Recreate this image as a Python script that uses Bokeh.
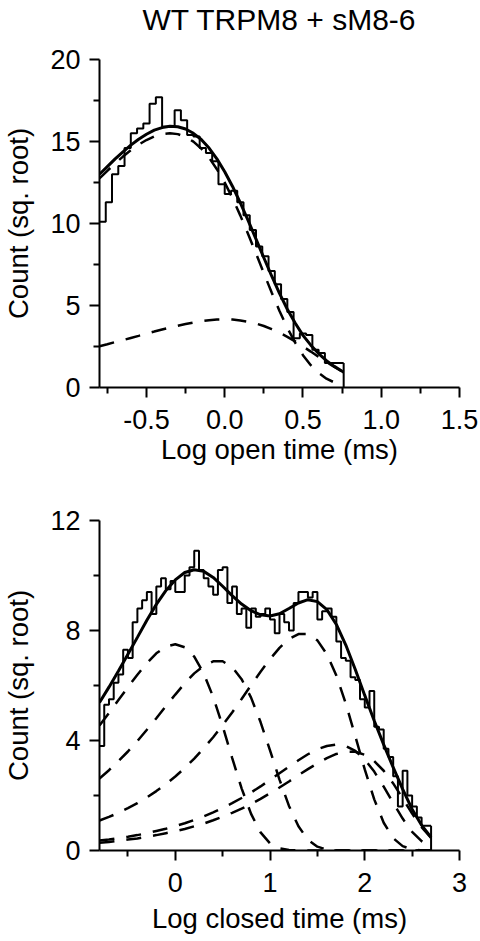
from bokeh.plotting import figure
from bokeh.layouts import column
from bokeh.models import FixedTicker, Range1d, Title
from bokeh.embed import file_html
from bokeh.resources import INLINE

FONT = "Liberation Sans"

# ---------------- Top panel: open times ----------------
title_text = "WT TRPM8 + sM8-6"
open_bin_start = -0.8
open_bin_width = 0.04
open_hist = [10.1, 11.3, 13.0, 13.5, 14.6, 15.5, 15.8, 16.1, 17.3, 17.7,
             15.9, 15.9, 16.9, 16.3, 15.4, 15.3, 14.6, 14.3, 13.8, 12.4,
             11.8, 12.0, 11.3, 10.5, 9.6, 8.6, 8.0, 7.1, 6.3, 5.4,
             4.6, 3.0, 3.3, 3.2, 2.3, 2.1, 1.5, 1.5, 1.5]

open_fit_x = [-0.8, -0.75, -0.7, -0.65, -0.6, -0.55, -0.5, -0.45, -0.4, -0.35,
              -0.3, -0.25, -0.2, -0.15, -0.1, -0.05, 0.0, 0.05, 0.1, 0.15,
              0.2, 0.25, 0.3, 0.35, 0.4, 0.45, 0.5, 0.55, 0.6, 0.65,
              0.7, 0.75, 0.76]
open_fit_total = [13.00, 13.47, 13.94, 14.37, 14.78, 15.14, 15.44, 15.69, 15.85, 15.93,
                  15.90, 15.76, 15.50, 15.12, 14.60, 13.94, 13.16, 12.26, 11.25, 10.17,
                  9.05, 7.91, 6.80, 5.74, 4.77, 3.93, 3.18, 2.58, 2.07, 1.64,
                  1.29, 0.99, 0.94]
open_comp_1 = [12.75, 13.21, 13.66, 14.08, 14.47, 14.81, 15.09, 15.31, 15.45, 15.50,
               15.45, 15.28, 14.99, 14.57, 14.01, 13.31, 12.49, 11.54, 10.48, 9.35,
               8.17, 6.97, 5.79, 4.67, 3.64, 2.74, 1.97, 1.36, 0.89, 0.54,
               0.31, 0.17, 0.15]
open_comp_2 = [2.52, 2.64, 2.77, 2.89, 3.02, 3.15, 3.29, 3.41, 3.54, 3.66,
               3.77, 3.87, 3.96, 4.04, 4.10, 4.14, 4.15, 4.14, 4.09, 4.01,
               3.90, 3.75, 3.56, 3.34, 3.09, 2.81, 2.50, 2.19, 1.87, 1.55,
               1.25, 0.98, 0.93]

open_x_ticks = [-0.5, 0.0, 0.5, 1.0, 1.5]
open_x_labels = ["-0.5", "0.0", "0.5", "1.0", "1.5"]
open_x_minor = [-0.75, -0.25, 0.25, 0.75, 1.25]
open_y_ticks = [0, 5, 10, 15, 20]
open_y_minor = [2.5, 7.5, 12.5, 17.5]

# ---------------- Bottom panel: closed times ----------------
closed_bin_start = -0.8
closed_bin_width = 0.05
closed_hist = [3.8, 5.3, 5.5, 6.1, 6.4, 7.3, 7.0, 8.3, 8.8, 9.1,
               9.4, 8.6, 9.6, 9.9, 9.5, 9.8, 9.4, 9.4, 10.0, 10.3,
               10.9, 10.2, 9.9, 9.6, 9.3, 10.2, 10.3, 9.0, 9.6, 8.6,
               8.8, 8.1, 8.8, 8.5, 8.6, 8.8, 8.4, 7.9, 8.6, 8.3,
               8.0, 9.0, 9.4, 9.4, 9.2, 9.4, 8.4, 8.7, 8.8, 8.5,
               7.6, 7.0, 6.9, 6.3, 6.2, 5.5, 5.2, 5.8, 4.5, 4.4,
               3.7, 3.4, 2.7, 1.6, 2.9, 2.0, 1.6, 1.2, 0.9, 0.9]

closed_fit_x = [-0.8, -0.7, -0.6, -0.5, -0.4, -0.3, -0.2, -0.1, 0.0, 0.1,
                0.2, 0.3, 0.4, 0.5, 0.6, 0.7, 0.8, 0.9, 1.0, 1.1,
                1.2, 1.3, 1.4, 1.5, 1.6, 1.7, 1.8, 1.9, 2.0, 2.1,
                2.2, 2.3, 2.4, 2.5, 2.6, 2.7]
closed_fit_total = [5.38, 5.94, 6.53, 7.14, 7.75, 8.37, 8.95, 9.45, 9.84, 10.11,
                    10.21, 10.15, 9.93, 9.61, 9.27, 8.96, 8.72, 8.57, 8.53, 8.61,
                    8.80, 9.00, 9.12, 9.05, 8.76, 8.22, 7.47, 6.58, 5.64, 4.72,
                    3.85, 3.02, 2.23, 1.50, 0.92, 0.48]
closed_comp_a = [4.55, 5.00, 5.47, 5.94, 6.39, 6.81, 7.17, 7.41, 7.50, 7.39,
                 7.05, 6.44, 5.58, 4.52, 3.37, 2.26, 1.33, 0.66, 0.26, 0.08,
                 0.02, 0, 0, 0, 0, 0, 0, 0, 0, 0,
                 0, 0, 0, 0, 0, 0]
closed_comp_b = [2.62, 2.92, 3.25, 3.60, 3.98, 4.39, 4.81, 5.25, 5.67, 6.08,
                 6.44, 6.72, 6.88, 6.88, 6.67, 6.23, 5.56, 4.67, 3.64, 2.58,
                 1.62, 0.88, 0.39, 0.14, 0.03, 0, 0, 0, 0, 0,
                 0, 0, 0, 0, 0, 0]
closed_comp_c = [1.09, 1.22, 1.37, 1.54, 1.72, 1.93, 2.16, 2.41, 2.69, 3.00,
                 3.34, 3.72, 4.12, 4.56, 5.02, 5.51, 6.01, 6.50, 6.96, 7.37,
                 7.69, 7.87, 7.87, 7.64, 7.14, 6.36, 5.34, 4.16, 2.95, 1.86,
                 1.01, 0.45, 0.16, 0.04, 0, 0]
closed_comp_d = [0.36, 0.40, 0.45, 0.50, 0.56, 0.63, 0.71, 0.79, 0.89, 0.99,
                 1.11, 1.24, 1.39, 1.55, 1.72, 1.91, 2.11, 2.33, 2.57, 2.81,
                 3.05, 3.28, 3.50, 3.68, 3.80, 3.85, 3.80, 3.62, 3.31, 2.87,
                 2.32, 1.73, 1.16, 0.68, 0.34, 0.14]
closed_comp_e = [0.28, 0.31, 0.35, 0.40, 0.44, 0.50, 0.56, 0.63, 0.70, 0.78,
                 0.88, 0.98, 1.10, 1.23, 1.37, 1.52, 1.69, 1.88, 2.08, 2.29,
                 2.51, 2.74, 2.96, 3.17, 3.36, 3.51, 3.59, 3.59, 3.48, 3.25,
                 2.90, 2.44, 1.90, 1.34, 0.85, 0.46]

closed_x_ticks = [0, 1, 2, 3]
closed_x_labels = ["0", "1", "2", "3"]
closed_x_minor = [-0.5, 0.5, 1.5, 2.5]
closed_y_ticks = [0, 4, 8, 12]
closed_y_minor = [2, 6, 10]

y_label = "Count (sq. root)"
open_x_label = "Log open time (ms)"
closed_x_label = "Log closed time (ms)"


def style_axes(p, xt, xlab, xminor, yt, yminor, xlabel, xlabel_standoff):
    p.xaxis.ticker = FixedTicker(ticks=xt, minor_ticks=xminor)
    p.xaxis.major_label_overrides = {t: s for t, s in zip(xt, xlab)}
    p.yaxis.ticker = FixedTicker(ticks=yt, minor_ticks=yminor)
    p.xaxis.axis_label = xlabel
    p.yaxis.axis_label = y_label
    for ax in (p.xaxis, p.yaxis):
        ax.axis_line_width = 2
        ax.axis_line_color = "black"
        ax.major_tick_line_width = 2
        ax.minor_tick_line_width = 2
        ax.major_tick_line_color = "black"
        ax.minor_tick_line_color = "black"
        ax.major_tick_out = 10
        ax.major_tick_in = 0
        ax.minor_tick_out = 6
        ax.minor_tick_in = 0
        ax.major_label_text_font = FONT
        ax.major_label_text_font_size = "27px"
        ax.major_label_text_color = "black"
        ax.axis_label_text_font = FONT
        ax.axis_label_text_font_size = "27.5px"
        ax.axis_label_text_font_style = "normal"
        ax.axis_label_text_color = "black"
    p.xaxis.major_label_standoff = 12
    p.xaxis.axis_label_standoff = xlabel_standoff
    p.yaxis.major_label_standoff = 9
    p.yaxis.axis_label_standoff = 13
    p.xgrid.visible = False
    p.ygrid.visible = False
    p.outline_line_color = None
    p.background_fill_color = "white"
    p.border_fill_color = "white"


def draw_hist(p, start, width, vals):
    edges = [start + width * i for i in range(len(vals) + 1)]
    p.step(x=edges, y=vals + [vals[-1]], mode="after", line_color="black", line_width=2)
    p.segment(x0=[edges[-1]], y0=[0], x1=[edges[-1]], y1=[vals[-1]],
              line_color="black", line_width=2)


DASH = "15 12"

top = figure(width=480, height=481, x_range=Range1d(-0.8, 1.5), y_range=Range1d(0, 20),
             output_backend="svg", toolbar_location=None,
             min_border_left=96, min_border_right=21, min_border_top=59, min_border_bottom=94)
# spacer (closest to the frame) so that the real title sits at the very top
top.add_layout(Title(text=" ", text_font=FONT, text_font_size="20px", standoff=0), "above")
top.add_layout(Title(text=title_text, text_font=FONT, text_font_size="30px",
                     text_font_style="normal", text_color="black", align="center",
                     standoff=0), "above")
style_axes(top, open_x_ticks, open_x_labels, open_x_minor, open_y_ticks, open_y_minor,
           open_x_label, 2)
draw_hist(top, open_bin_start, open_bin_width, open_hist)
for comp in (open_comp_1, open_comp_2):
    top.line(open_fit_x, comp, line_color="black", line_width=2.5, line_dash=DASH)
top.line(open_fit_x, open_fit_total, line_color="black", line_width=3)

bot = figure(width=480, height=460, x_range=Range1d(-0.8, 3.0), y_range=Range1d(0, 12),
             output_backend="svg", toolbar_location=None,
             min_border_left=96, min_border_right=21, min_border_top=39, min_border_bottom=91)
style_axes(bot, closed_x_ticks, closed_x_labels, closed_x_minor, closed_y_ticks, closed_y_minor,
           closed_x_label, 8)
draw_hist(bot, closed_bin_start, closed_bin_width, closed_hist)
for comp in (closed_comp_a, closed_comp_b, closed_comp_c, closed_comp_d, closed_comp_e):
    bot.line(closed_fit_x, comp, line_color="black", line_width=2.5, line_dash=DASH)
bot.line(closed_fit_x, closed_fit_total, line_color="black", line_width=3)

layout = column(top, bot, spacing=0)
open("out.html", "w").write(file_html(layout, INLINE))
